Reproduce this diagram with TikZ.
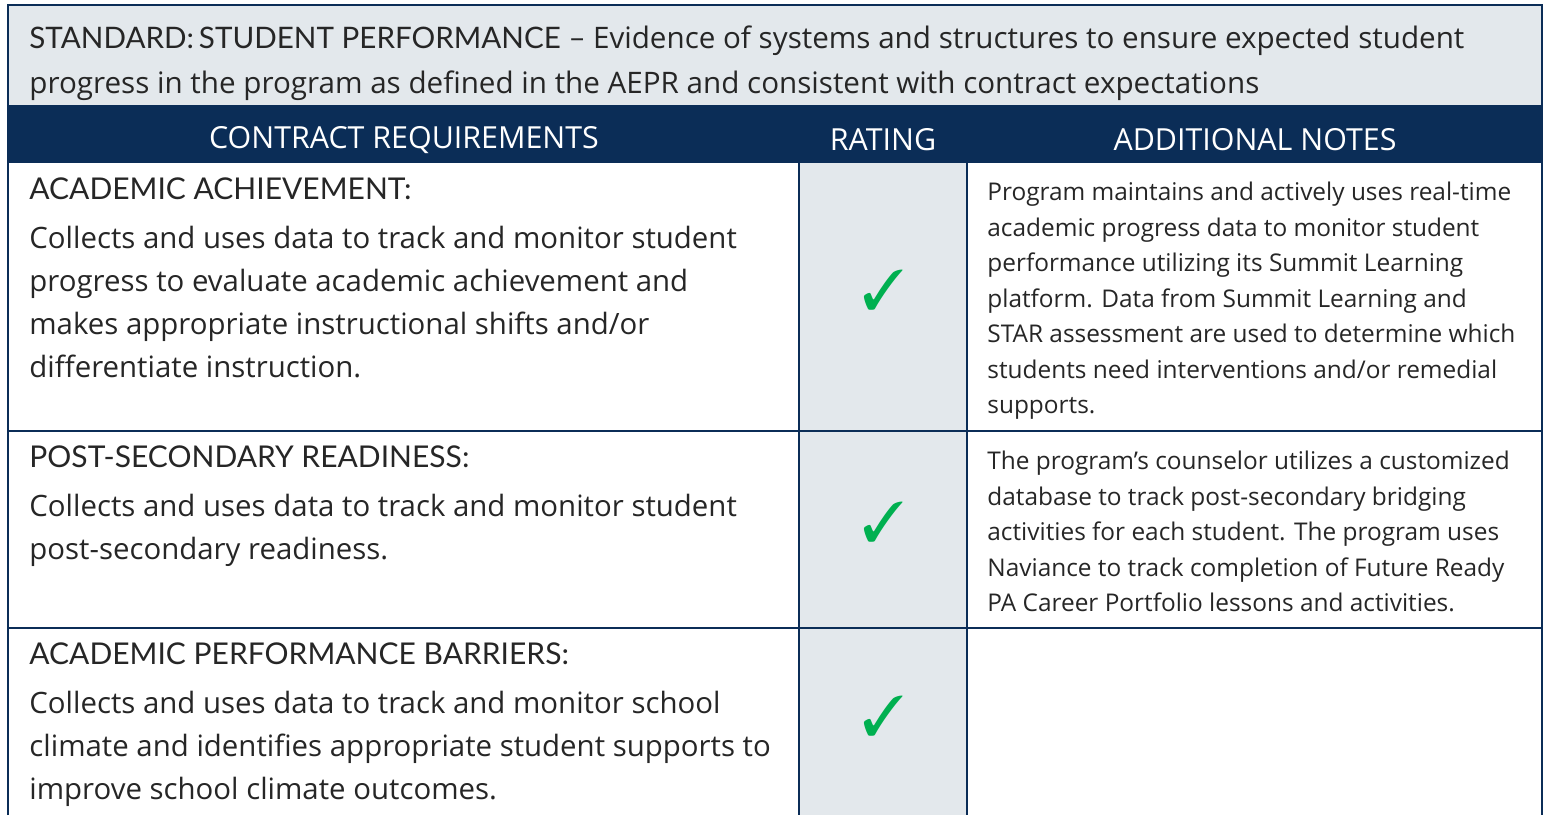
\documentclass[tikz,border=0pt]{standalone}
\usepackage{fontspec}
\setmainfont{Open Sans}
\newfontfamily\capsfont{Lato}
\usepackage{pifont}

\definecolor{navy}{HTML}{0B2D57}
\definecolor{paleblue}{HTML}{E3E8EC}
\definecolor{ink}{HTML}{262626}
\definecolor{checkgreen}{HTML}{00B050}

\tikzset{
  rule/.style={draw=navy, line width=1.1pt},
  titletext/.style={anchor=north west, inner sep=0pt, align=left, text=ink,
    font=\fontsize{14.8}{22.5}\selectfont},
  headtext/.style={inner sep=0pt, text=white, font=\fontsize{15.2}{17}\selectfont},
  reqhead/.style={anchor=north west, inner sep=0pt, text=ink,
    font=\capsfont\fontsize{15}{18}\selectfont},
  reqtext/.style={anchor=north west, inner sep=0pt, align=left, text=ink,
    font=\fontsize{14.7}{21.5}\selectfont},
  notetext/.style={anchor=north west, inner sep=0pt, align=left, text=ink,
    font=\fontsize{12.2}{17.75}\selectfont},
  tick/.style={inner sep=0pt, text=checkgreen, font=\fontsize{28}{28}\selectfont}
}

\begin{document}
\begin{tikzpicture}[x=0.5pt,y=-0.5pt]
  \useasboundingbox (0,0) rectangle (1546,815);

  % bands
  \fill [paleblue] (8,5) rectangle (1542,105);
  \fill [navy] (8,105) rectangle (1542,163);
  \fill [paleblue] (799,163) rectangle (967,815);

  % grid
  \draw [rule] (8,815) -- (8,5) -- (1542,5) -- (1542,815);
  \draw [rule] (8,431) -- (1542,431);
  \draw [rule] (8,628) -- (1542,628);
  \draw [rule] (799,163) -- (799,815);
  \draw [rule] (967,163) -- (967,815);

  % title
  \node [titletext] (title) at (29,25)
    {{\capsfont STANDARD:\,STUDENT PERFORMANCE –} Evidence of systems and structures to ensure expected student\\
     progress in the program as defined in the AEPR and consistent with contract expectations};

  % column heads
  \node [headtext] (req) at (404,140) {CONTRACT REQUIREMENTS};
  \node [headtext] (rate) at (883,140) {RATING};
  \node [headtext] (notes) at (1255,140) {ADDITIONAL NOTES};

  % row 1
  \node [reqhead] (acadhd) at (29,177) {ACADEMIC ACHIEVEMENT:};
  \node [reqtext] (acadtx) at (29,226)
    {Collects and uses data to track and monitor student\\
     progress to evaluate academic achievement and\\
     makes appropriate instructional shifts and/or\\
     differentiate instruction.};
  \node [tick] (acadck) at (884,290) {\ding{51}};
  \node [notetext] (acadnt) at (987,182)
    {Program maintains and actively uses real-time\\
     academic progress data to monitor student\\
     performance utilizing its Summit Learning\\
     platform. Data from Summit Learning and\\
     STAR assessment are used to determine which\\
     students need interventions and/or remedial\\
     supports.};

  % row 2
  \node [reqhead] (posthd) at (29,445) {POST-SECONDARY READINESS:};
  \node [reqtext] (posttx) at (29,494)
    {Collects and uses data to track and monitor student\\
     post-secondary readiness.};
  \node [tick] (postck) at (884,522) {\ding{51}};
  \node [notetext] (postnt) at (987,451)
    {The program's counselor utilizes a customized\\
     database to track post-secondary bridging\\
     activities for each student. The program uses\\
     Naviance to track completion of Future Ready\\
     PA Career Portfolio lessons and activities.};

  % row 3
  \node [reqhead] (barrhd) at (29,642) {ACADEMIC PERFORMANCE BARRIERS:};
  \node [reqtext] (barrtx) at (29,691)
    {Collects and uses data to track and monitor school\\
     climate and identifies appropriate student supports to\\
     improve school climate outcomes.};
  \node [tick] (barrck) at (884,716) {\ding{51}};
\end{tikzpicture}
\end{document}
